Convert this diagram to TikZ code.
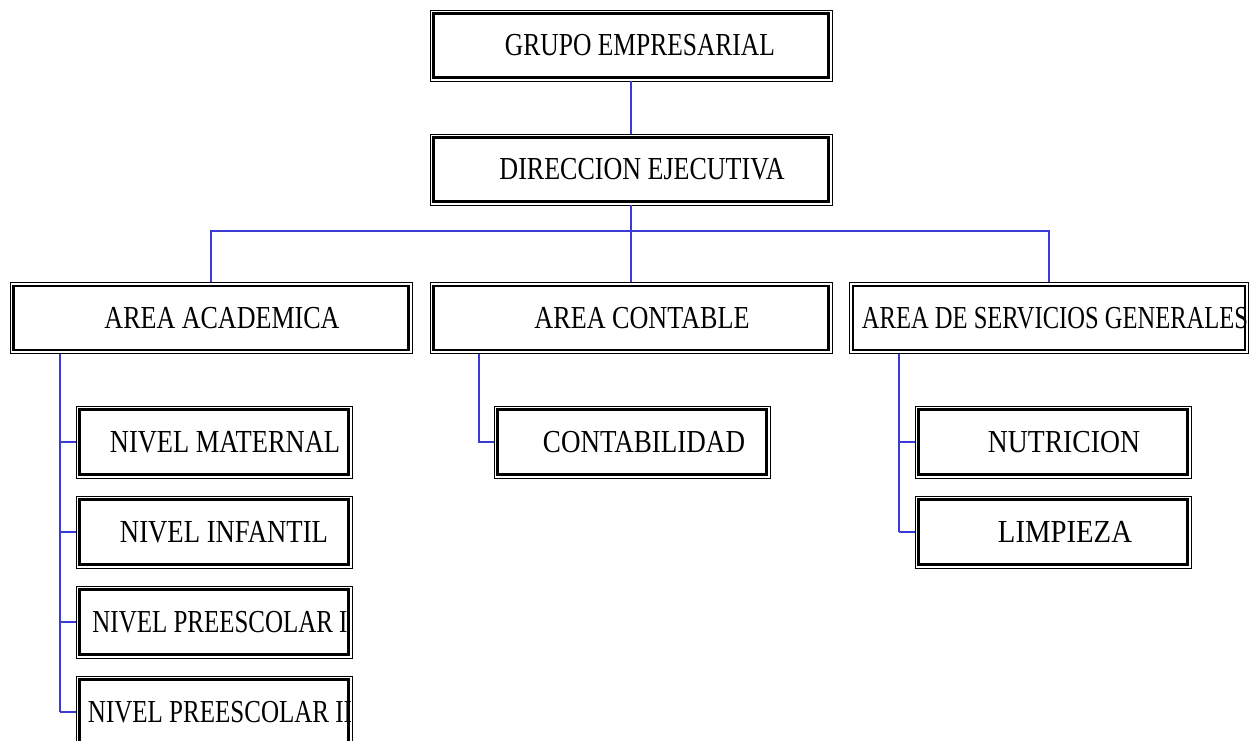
\documentclass[tikz,border=0pt]{standalone}
\usepackage{fontspec}
\setmainfont{Liberation Serif}
\usepackage{graphicx}
\definecolor{linea}{RGB}{58,58,214}
\newcommand{\rotulo}[3][0.55cm]{\hspace*{#1}\resizebox{#2}{0.53cm}{#3}}
\tikzset{
  caja/.style={draw, line width=0.6pt, inner sep=0pt, minimum width=10.05cm, minimum height=1.775cm,
    path picture={\draw[line width=1.9pt] ([shift={(0.09cm,-0.09cm)}]path picture bounding box.north west) rectangle ([shift={(-0.09cm,0.09cm)}]path picture bounding box.south east);}},
  cajita/.style={caja, minimum width=6.9cm, minimum height=1.8cm},
  rama/.style={linea, line width=1.7pt}
}
\begin{document}
\begin{tikzpicture}[x=0.025cm, y=-0.025cm]
\useasboundingbox (0,0) rectangle (1249,741);
% cajas
\node[caja] (grupo) at (631,45.5) {\rotulo[0.45cm]{6.75cm}{GRUPO EMPRESARIAL}};
\node[caja] (direccion) at (631,169.5) {\rotulo{7.125cm}{DIRECCION EJECUTIVA}};
\node[caja] (academica) at (211,318) {\rotulo{5.875cm}{AREA ACADEMICA}};
\node[caja] (contable) at (631,318) {\rotulo{5.375cm}{AREA CONTABLE}};
\node[caja, minimum width=9.975cm] (servicios) at (1049,318) {\rotulo[0.3cm]{9.65cm}{AREA DE SERVICIOS GENERALES}};
\node[cajita] (maternal) at (214,442) {\rotulo{5.75cm}{NIVEL MATERNAL}};
\node[cajita] (infantil) at (214,532) {\rotulo[0.5cm]{5.2cm}{NIVEL INFANTIL}};
\node[cajita] (preescolaruno) at (214,622) {\rotulo[0.3cm]{6.375cm}{NIVEL PREESCOLAR I}};
\node[cajita] (preescolardos) at (214,712) {\rotulo[0.3cm]{6.6cm}{NIVEL PREESCOLAR II}};
\node[cajita] (contabilidad) at (632,442) {\rotulo[0.6cm]{5.05cm}{CONTABILIDAD}};
\node[cajita] (nutricion) at (1053,442) {\rotulo{3.8cm}{NUTRICION}};
\node[cajita] (limpieza) at (1053,532) {\rotulo[0.6cm]{3.35cm}{LIMPIEZA}};
% lineas
\coordinate (bus) at (631,231);
\coordinate (ejeA) at (60,0);
\coordinate (ejeC) at (479,0);
\coordinate (ejeS) at (899,0);
\draw[rama] (grupo) -- (direccion);
\draw[rama] (direccion.south) -- (bus);
\draw[rama] (academica.north) -- (academica.north |- bus) -- (servicios.north |- bus) -- (servicios.north);
\draw[rama] (contable.north) -- (contable.north |- bus);
\draw[rama] (ejeA |- academica.south) -- (ejeA |- preescolardos.west);
\foreach \n in {maternal,infantil,preescolaruno,preescolardos}
  \draw[rama] (ejeA |- \n.west) -- (\n.west);
\draw[rama] (ejeC |- contable.south) |- (contabilidad.west);
\draw[rama] (ejeS |- servicios.south) -- (ejeS |- limpieza.west);
\foreach \n in {nutricion,limpieza}
  \draw[rama] (ejeS |- \n.west) -- (\n.west);
\end{tikzpicture}
\end{document}
